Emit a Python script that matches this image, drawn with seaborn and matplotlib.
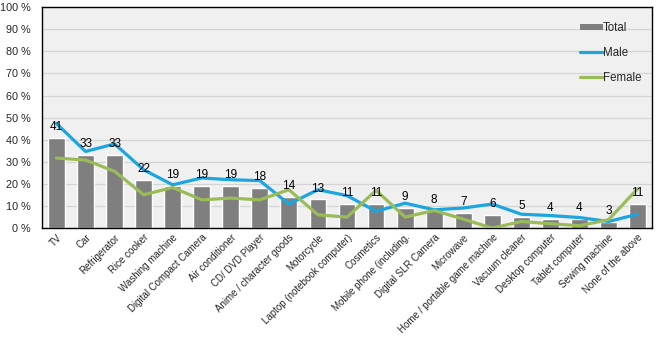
import matplotlib
matplotlib.use("Agg")
import matplotlib.pyplot as plt
import seaborn as sns
import pandas as pd
import numpy as np
from matplotlib.patches import Patch
from matplotlib.lines import Line2D

categories = [
    "TV", "Car", "Refrigerator", "Rice cooker", "Washing machine",
    "Digital Compact Camera", "Air conditioner", "CD/ DVD Player",
    "Anime / character goods", "Motorcycle", "Laptop (notebook computer)",
    "Cosmetics", "Mobile phone (including.", "Digital SLR Camera", "Microwave",
    "Home / portable game machine", "Vacuum cleaner", "Desktop computer",
    "Tablet computer", "Sewing machine", "None of the above",
]
total = [41, 33, 33, 22, 19, 19, 19, 18, 14, 13, 11, 11, 9, 8, 7, 6, 5, 4, 4, 3, 11]
male = [47.3, 34.7, 38.1, 26.4, 19.6, 22.7, 21.9, 21.5, 10.9, 17.4, 14.7,
        7.6, 11.3, 8.3, 9.1, 10.9, 6.3, 5.7, 4.8, 3.0, 6.3]
female = [31.7, 30.8, 25.7, 15.1, 18.4, 12.8, 13.6, 12.8, 17.4, 6.0, 5.0,
          17.1, 5.0, 8.0, 4.1, 0.0, 3.0, 2.0, 1.1, 3.8, 17.8]
y_ticks = list(range(0, 101, 10))
y_tick_labels = [f"{v} %" for v in y_ticks]

sns.set_theme(style="white")
plt.rcParams["font.family"] = ["Liberation Sans", "DejaVu Sans"]

BAR = "#7f7f7f"
MALE = "#1ba6df"
FEMALE = "#9bbb59"

df = pd.DataFrame({"item": categories, "Total": total, "Male": male,
                   "Female": female, "pos": np.arange(len(categories))})

fig = plt.figure(figsize=(6.62, 3.40), dpi=100)
ax = fig.add_axes([0.0634, 0.329, 0.9216, 0.650])
ax.set_facecolor("#f0f0f0")

sns.barplot(data=df, x="pos", y="Total", color=BAR, width=0.58,
            saturation=1, ax=ax, zorder=2, native_scale=True)
sns.lineplot(data=df, x="pos", y="Male", color=MALE, linewidth=2.3,
             ax=ax, zorder=3)
sns.lineplot(data=df, x="pos", y="Female", color=FEMALE, linewidth=2.3,
             ax=ax, zorder=3)

for xi, v in zip(df["pos"], df["Total"]):
    ax.annotate(f"{v}", (xi, v), xytext=(0, 3.5), textcoords="offset points",
                ha="center", va="bottom", fontsize=8.5, color="black", zorder=4)

ax.set_xlim(-0.5, len(categories) - 0.5)
ax.set_ylim(0, 100)
ax.set_yticks(y_ticks)
ax.set_yticklabels(y_tick_labels, fontsize=7.8)
ax.set_xticks(df["pos"])
ax.set_xticklabels(categories, rotation=45, ha="right",
                   rotation_mode="anchor", fontsize=7)
ax.tick_params(axis="y", length=0, pad=8)
ax.tick_params(axis="x", length=0, pad=3)
ax.set_xlabel("")
ax.set_ylabel("")
ax.yaxis.grid(True, color="#d4d4d4", linewidth=0.9, zorder=0)
ax.set_axisbelow(True)
for s in ax.spines.values():
    s.set_color("black")
    s.set_linewidth(1.0)

handles = [Patch(facecolor=BAR, edgecolor="none"),
           Line2D([0], [0], color=MALE, linewidth=2.3),
           Line2D([0], [0], color=FEMALE, linewidth=2.3)]
ax.legend(handles, ["Total", "Male", "Female"], loc="upper right",
          bbox_to_anchor=(1.0, 0.98), frameon=False, fontsize=8.3,
          labelspacing=1.12, handlelength=2.0, handletextpad=0.05,
          handleheight=0.5)

fig.savefig("out.png", dpi=100, facecolor="white")
